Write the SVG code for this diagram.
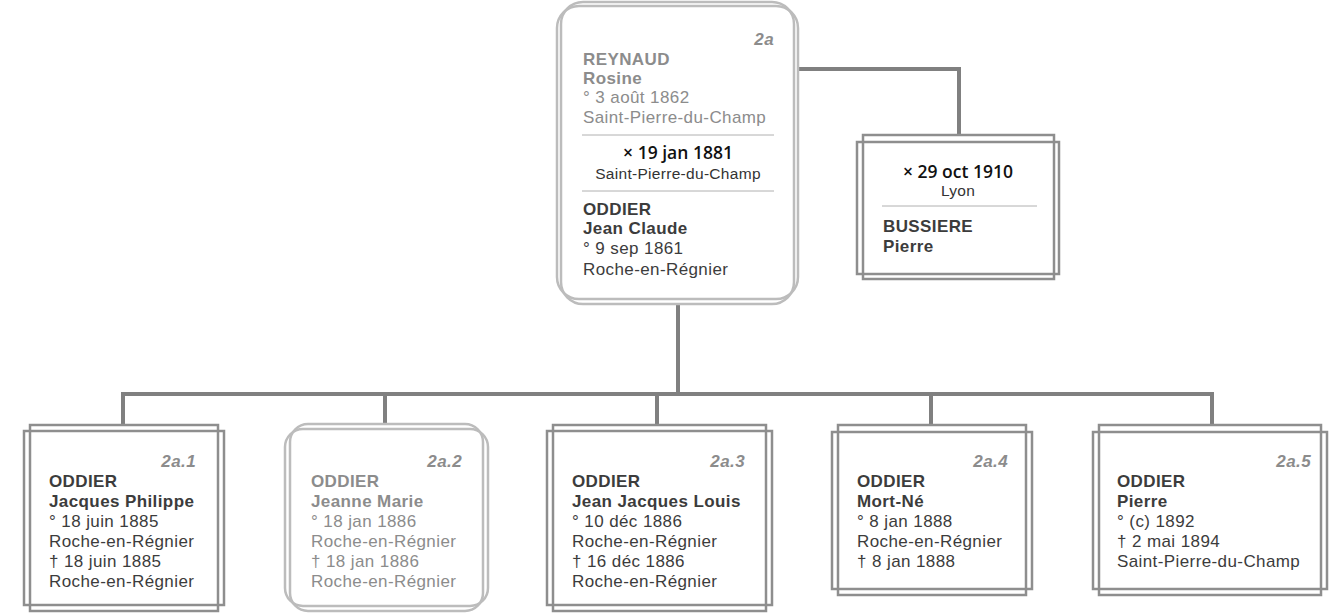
<svg xmlns="http://www.w3.org/2000/svg" width="1329" height="615" viewBox="0 0 1329 615">
<style>
.bg{fill:#ffffff}
.bd{fill:none;stroke:#8e8e8e;stroke-width:2.5}
.bl{fill:none;stroke:#bcbcbc;stroke-width:2.5}
.conn{fill:none;stroke:#808080;stroke-width:4}
.sep{stroke:#b0b0b0;stroke-width:1}
text{font-family:"Liberation Sans",Arial,sans-serif;font-size:17px;letter-spacing:0.4px}
.d{fill:#3c3c3c}
.l{fill:#8c8c8c}
.b{font-weight:bold}
.id{font-weight:bold;font-style:italic;fill:#8c8c8c;text-anchor:end}
.mar{font-family:"Open Sans","DejaVu Sans",sans-serif;font-size:17.5px;font-weight:600;fill:#111;text-anchor:middle;letter-spacing:0}
.pl{font-size:15.5px;fill:#333;text-anchor:middle;letter-spacing:0.3px}
</style>
<rect class="bg" x="0" y="0" width="1329" height="615"/>
<g id="connectors">
<path class="conn" d="M798 69 H959 V135"/>
<path class="conn" d="M678 304 V394"/>
<path class="conn" d="M123 425 V394 H1212 V425"/>
<path class="conn" d="M385 394 V425"/>
<path class="conn" d="M657 394 V425"/>
<path class="conn" d="M931 394 V425"/>
</g>
<g id="node-2a">
<rect x="557" y="6" width="241" height="293" rx="22" fill="#fff" class="bl"/>
<rect x="561" y="2" width="233" height="302" rx="22" class="bl"/>
<text class="id" x="774" y="45">2a</text>
<text class="l b" x="583" y="65">REYNAUD</text>
<text class="l b" x="583" y="84">Rosine</text>
<text class="l" x="583" y="103">° 3 août 1862</text>
<text class="l" x="583" y="123">Saint-Pierre-du-Champ</text>
<line class="sep" x1="582" y1="135" x2="774" y2="135"/>
<text class="mar" x="678" y="159">× 19 jan 1881</text>
<text class="pl" x="678" y="179">Saint-Pierre-du-Champ</text>
<line class="sep" x1="582" y1="191" x2="774" y2="191"/>
<text class="d b" x="583" y="215">ODDIER</text>
<text class="d b" x="583" y="234">Jean Claude</text>
<text class="d" x="583" y="254">° 9 sep 1861</text>
<text class="d" x="583" y="275">Roche-en-Régnier</text>
</g>
<g id="node-bussiere">
<rect x="857" y="142" width="202" height="132" fill="#fff" class="bd"/>
<rect x="863" y="135" width="191" height="144" class="bd"/>
<text class="mar" x="958" y="178">× 29 oct 1910</text>
<text class="pl" x="958" y="196">Lyon</text>
<line class="sep" x1="882" y1="206" x2="1037" y2="206"/>
<text class="d b" x="883" y="232">BUSSIERE</text>
<text class="d b" x="883" y="252">Pierre</text>
</g>
<g id="node-2a1">
<rect x="24" y="431" width="200" height="174" fill="#fff" class="bd"/>
<rect x="30" y="425" width="188" height="186" class="bd"/>
<text class="id" x="196" y="467">2a.1</text>
<text class="d b" x="49" y="487">ODDIER</text>
<text class="d b" x="49" y="507">Jacques Philippe</text>
<text class="d" x="49" y="527">° 18 juin 1885</text>
<text class="d" x="49" y="547">Roche-en-Régnier</text>
<text class="d" x="49" y="567">† 18 juin 1885</text>
<text class="d" x="49" y="587">Roche-en-Régnier</text>
</g>
<g id="node-2a2">
<rect x="285" y="429" width="203" height="177" rx="18" fill="#fff" class="bl"/>
<rect x="290" y="424" width="193" height="187" rx="18" class="bl"/>
<text class="id" x="462" y="467">2a.2</text>
<text class="l b" x="311" y="487">ODDIER</text>
<text class="l b" x="311" y="507">Jeanne Marie</text>
<text class="l" x="311" y="527">° 18 jan 1886</text>
<text class="l" x="311" y="547">Roche-en-Régnier</text>
<text class="l" x="311" y="567">† 18 jan 1886</text>
<text class="l" x="311" y="587">Roche-en-Régnier</text>
</g>
<g id="node-2a3">
<rect x="547" y="431" width="225" height="174" fill="#fff" class="bd"/>
<rect x="553" y="425" width="213" height="186" class="bd"/>
<text class="id" x="745" y="467">2a.3</text>
<text class="d b" x="572" y="487">ODDIER</text>
<text class="d b" x="572" y="507">Jean Jacques Louis</text>
<text class="d" x="572" y="527">° 10 déc 1886</text>
<text class="d" x="572" y="547">Roche-en-Régnier</text>
<text class="d" x="572" y="567">† 16 déc 1886</text>
<text class="d" x="572" y="587">Roche-en-Régnier</text>
</g>
<g id="node-2a4">
<rect x="832" y="432" width="200" height="157" fill="#fff" class="bd"/>
<rect x="838" y="425" width="188" height="170" class="bd"/>
<text class="id" x="1008" y="467">2a.4</text>
<text class="d b" x="857" y="487">ODDIER</text>
<text class="d b" x="857" y="507">Mort-Né</text>
<text class="d" x="857" y="527">° 8 jan 1888</text>
<text class="d" x="857" y="547">Roche-en-Régnier</text>
<text class="d" x="857" y="567">† 8 jan 1888</text>
</g>
<g id="node-2a5">
<rect x="1093" y="432" width="234" height="157" fill="#fff" class="bd"/>
<rect x="1099" y="425" width="222" height="170" class="bd"/>
<text class="id" x="1311" y="467">2a.5</text>
<text class="d b" x="1117" y="487">ODDIER</text>
<text class="d b" x="1117" y="507">Pierre</text>
<text class="d" x="1117" y="527">° (c) 1892</text>
<text class="d" x="1117" y="547">† 2 mai 1894</text>
<text class="d" x="1117" y="567">Saint-Pierre-du-Champ</text>
</g>
</svg>
